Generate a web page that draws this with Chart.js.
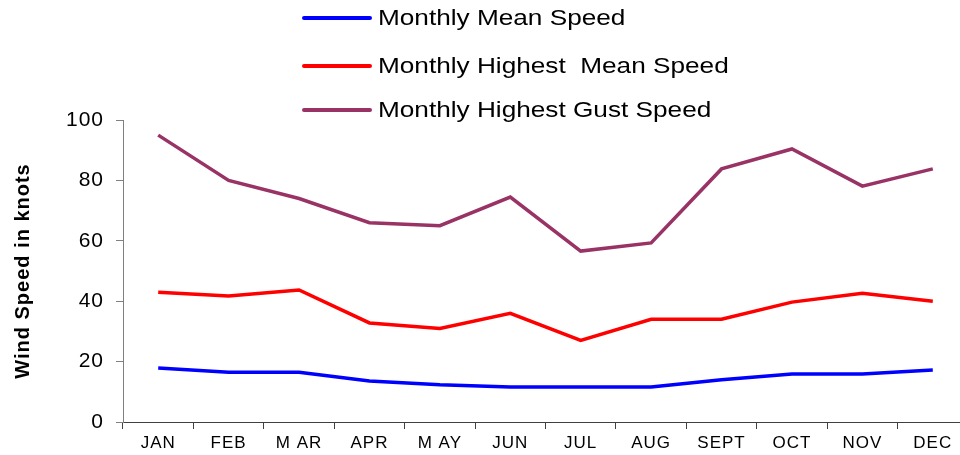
<!DOCTYPE html>
<html>
<head>
<meta charset="utf-8">
<script src="https://cdn.jsdelivr.net/npm/chart.js@4.4.1/dist/chart.umd.min.js"></script>
<style>
  html, body { margin: 0; padding: 0; background: #fff; overflow: hidden; }
  #wrap { position: relative; width: 968px; height: 455px; }
  #legend { position: absolute; left: 302px; top: 0; font-family: Arial, "Liberation Sans", sans-serif; font-size: 22px; color: #000; }
  .item { position: absolute; left: 0; white-space: pre; display: flex; align-items: center; height: 26px; }
  .item .swatch { width: 70px; height: 4px; border-radius: 2px; margin-right: 6px; }
  .item .txt { display: inline-block; transform: scaleX(1.19); transform-origin: left center; }
</style>
</head>
<body>
<div id="wrap">
  <canvas id="windChart" width="968" height="455"></canvas>
  <div id="legend"></div>
</div>
<script>
// 데이터
const months = ['JAN', 'FEB', 'MAR', 'APR', 'MAY', 'JUN', 'JUL', 'AUG', 'SEPT', 'OCT', 'NOV', 'DEC'];
const monthLabels = ['JAN', 'FEB', 'M AR', 'APR', 'M AY', 'JUN', 'JUL', 'AUG', 'SEPT', 'OCT', 'NOV', 'DEC'];
const meanSpeed = [17.9, 16.5, 16.5, 13.6, 12.3, 11.6, 11.6, 11.6, 14, 15.9, 15.9, 17.2];
const highestMeanSpeed = [43, 41.7, 43.7, 32.8, 31, 36, 27, 34, 34, 39.7, 42.6, 40];
const highestGustSpeed = [95, 80, 74, 66, 65, 74.5, 56.6, 59.3, 83.8, 90.4, 78.1, 83.8];
const yTicks = [0, 20, 40, 60, 80, 100];

const seriesLabels = ['Monthly Mean Speed', 'Monthly Highest  Mean Speed', 'Monthly Highest Gust Speed'];
const seriesColors = ['#0000FF', '#FF0000', '#993366'];
const legendRows = [18, 66, 110];

const font = 'Arial, "Liberation Sans", sans-serif';

function makeDataset(i, data) {
  return {
    label: seriesLabels[i],
    data: data,
    borderColor: seriesColors[i],
    backgroundColor: seriesColors[i],
    borderWidth: 3.5,
    pointRadius: 0,
    tension: 0,
    fill: false
  };
}

// 캔버스 글자 간격 (원본의 넓은 글자 모양에 맞춤)
const letterSpacingPlugin = {
  id: 'letterSpacing',
  beforeUpdate(chart) { chart.ctx.letterSpacing = '1px'; },
  beforeDraw(chart) { chart.ctx.letterSpacing = '1px'; }
};

const chart = new Chart(document.getElementById('windChart'), {
  type: 'line',
  data: {
    labels: monthLabels,
    datasets: [
      makeDataset(0, meanSpeed),
      makeDataset(1, highestMeanSpeed),
      makeDataset(2, highestGustSpeed)
    ]
  },
  plugins: [letterSpacingPlugin],
  options: {
    responsive: false,
    animation: false,
    layout: { padding: { top: 120, right: 0, left: 0, bottom: 0 } },
    plugins: {
      legend: { display: false },
      tooltip: { enabled: false }
    },
    scales: {
      x: {
        offset: true,
        grid: {
          offset: true,
          drawOnChartArea: false,
          tickLength: 7,
          color: '#404040'
        },
        border: { color: '#404040', width: 1 },
        ticks: {
          font: { family: font, size: 17 },
          color: '#000',
          padding: 4,
          maxRotation: 0,
          autoSkip: false
        },
        afterFit: function(axis) { axis.height = 33; }
      },
      y: {
        min: 0,
        max: 100,
        afterBuildTicks: function(axis) {
          axis.ticks = yTicks.map(v => ({ value: v }));
        },
        grid: {
          drawOnChartArea: false,
          tickLength: 7,
          color: '#808080'
        },
        border: { color: '#808080', width: 1 },
        ticks: {
          font: { family: font, size: 21 },
          color: '#000',
          padding: 12
        },
        title: {
          display: true,
          text: 'Wind Speed in knots',
          font: { family: font, size: 20, weight: 'bold' },
          color: '#000',
          padding: { top: 11, bottom: 0 }
        },
        afterFit: function(axis) { axis.width = 123; }
      }
    }
  }
});

// 범례 (HTML)
const legendEl = document.getElementById('legend');
chart.data.datasets.forEach((ds, i) => {
  const item = document.createElement('div');
  item.className = 'item';
  item.style.top = (legendRows[i] - 13) + 'px';
  const sw = document.createElement('span');
  sw.className = 'swatch';
  sw.style.background = ds.borderColor;
  const txt = document.createElement('span');
  txt.className = 'txt';
  txt.textContent = ds.label;
  item.appendChild(sw);
  item.appendChild(txt);
  legendEl.appendChild(item);
});
</script>
</body>
</html>
